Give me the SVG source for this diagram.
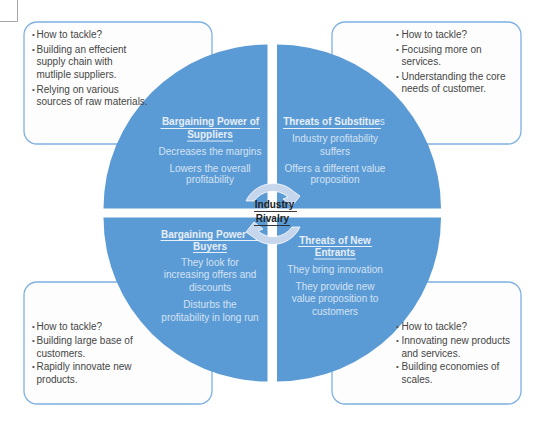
<svg xmlns="http://www.w3.org/2000/svg" width="540" height="421" viewBox="0 0 540 421">
<style>
text{font-family:"Liberation Sans",Arial,sans-serif}
.box{fill:#fdfdfd;stroke:#7fb0e2;stroke-width:1.3}
.q{fill:#5b9bd5}
.t{font-size:10px;fill:#454545}
.d{font-size:8px;fill:#555}
.h{font-size:10px;font-weight:bold;fill:#e6eef8;text-anchor:middle}
.b{font-size:10px;fill:#d3e2f3;text-anchor:middle}
.u{stroke:#f4f8fc;stroke-width:.9}
.c{font-size:10px;font-weight:bold;fill:#222;text-anchor:middle}
.arc{fill:#c6d6ec;stroke:#fff;stroke-width:.8}
</style>
<path d="M0 21.500H17.500V0" fill="none" stroke="#a6a6a6"/>
<g id="box-tl"><rect class="box" x="24" y="22" width="188" height="122" rx="13"/></g>
<g id="box-tr"><rect class="box" x="332" y="22" width="189" height="122" rx="13"/></g>
<g id="box-bl"><rect class="box" x="24" y="282" width="188" height="122" rx="13"/></g>
<g id="box-br"><rect class="box" x="332" y="282" width="189" height="122" rx="13"/></g>
<g id="quadrant-tl">
<path class="q" d="M267.500 44.500V208.500H103.500A164 164 0 0 1 267.500 44.500Z"/>
<text class="h" x="210.500" y="125">Bargaining Power of</text><path class="u" d="M160.500 128.500H260"/>
<text class="h" x="210" y="138">Suppliers</text><path class="u" d="M187 141H233"/>
<text class="b" x="210" y="155">Decreases the margins</text>
<text class="b" x="210" y="172">Lowers the overall</text>
<text class="b" x="210" y="183">profitability</text>
</g>
<g id="quadrant-tr">
<path class="q" d="M277 44.500V208.500H441A164 164 0 0 0 277 44.500Z"/>
<text class="h" x="334" y="125">Threats of Substitue<tspan font-weight="normal" fill="#d3e2f3">s</tspan></text><path class="u" d="M283 128.500H381"/>
<text class="b" x="335" y="142">Industry profitability</text>
<text class="b" x="335" y="155">suffers</text>
<text class="b" x="335" y="172">Offers a different value</text>
<text class="b" x="335" y="183">proposition</text>
</g>
<g id="quadrant-bl">
<path class="q" d="M267.500 217.500V381.500A164 164 0 0 1 103.500 217.500Z"/>
<text class="h" x="161" y="238" style="text-anchor:start">Bargaining Power</text><path class="u" d="M160.500 240.500H260"/>
<text class="h" x="210" y="250">Buyers</text><path class="u" d="M193 252.500H227"/>
<text class="b" x="210" y="266">They look for</text>
<text class="b" x="210" y="278">increasing offers and</text>
<text class="b" x="210" y="291">discounts</text>
<text class="b" x="210" y="308">Disturbs the</text>
<text class="b" x="210" y="321">profitability in long run</text>
</g>
<g id="quadrant-br">
<path class="q" d="M277 217.500H441A164 164 0 0 1 277 381.500Z"/>
<text class="h" x="335" y="244">Threats of New</text><path class="u" d="M298 246.500H372"/>
<text class="h" x="335" y="256">Entrants</text><path class="u" d="M314 259H356"/>
<text class="b" x="335" y="273">They bring innovation</text>
<text class="b" x="335" y="290">They provide new</text>
<text class="b" x="335" y="302">value proposition to</text>
<text class="b" x="335" y="315">customers</text>
</g>
<g id="connectors">
<path class="arc" d="M246 201A30 30 0 0 1 293 191L300 196L292 206L283 199L288 197A23 23 0 0 0 254 201Z"/>
<path class="arc" d="M300 227A30 30 0 0 1 253 237L246 232L254 222L263 229L258 231A23 23 0 0 0 292 227Z"/>
</g>
<g id="center">
<text class="c" x="274.500" y="208">Industry</text><path d="M254 211.500H297" stroke="#222" stroke-width=".9"/>
<text class="c" x="272.500" y="222">Rivalry</text><path d="M254 225.500H290" stroke="#222" stroke-width=".9"/>
</g>
<g id="text-tl" class="t">
<text class="d" x="32" y="37">•</text><text x="36.500" y="38">How to tackle?</text>
<text class="d" x="32" y="51.500">•</text><text x="36.500" y="52.500">Building an effecient</text>
<text x="36.500" y="65">supply chain with</text>
<text x="36.500" y="77.500">mutliple suppliers.</text>
<text class="d" x="32" y="91.500">•</text><text x="36.500" y="92.500">Relying on various</text>
<text x="36.500" y="104.500">sources of raw materials.</text>
</g>
<g id="text-tr" class="t">
<text class="d" x="396" y="37">•</text><text x="401.500" y="38">How to tackle?</text>
<text class="d" x="396" y="51.500">•</text><text x="401.500" y="52.500">Focusing more on</text>
<text x="401.500" y="65">services.</text>
<text class="d" x="396" y="78.500">•</text><text x="401.500" y="79.500">Understanding the core</text>
<text x="401.500" y="92">needs of customer.</text>
</g>
<g id="text-bl" class="t">
<text class="d" x="32" y="328.500">•</text><text x="36.500" y="329.500">How to tackle?</text>
<text class="d" x="32" y="343">•</text><text x="36.500" y="344">Building large base of</text>
<text x="36.500" y="356.500">customers.</text>
<text class="d" x="32" y="369">•</text><text x="36.500" y="370">Rapidly innovate new</text>
<text x="36.500" y="382.500">products.</text>
</g>
<g id="text-br" class="t">
<text class="d" x="396" y="328.500">•</text><text x="401.500" y="329.500">How to tackle?</text>
<text class="d" x="396" y="343">•</text><text x="401.500" y="344">Innovating new products</text>
<text x="401.500" y="356.500">and services.</text>
<text class="d" x="396" y="369">•</text><text x="401.500" y="370">Building economies of</text>
<text x="401.500" y="382.500">scales.</text>
</g>
</svg>
